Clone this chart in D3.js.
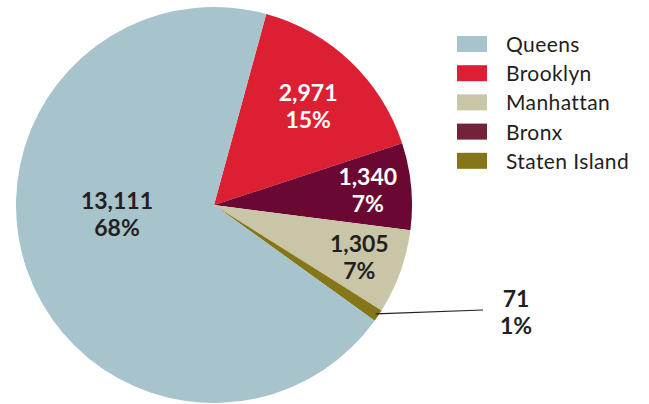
<!DOCTYPE html>
<html>
<head>
<meta charset="utf-8">
<script src="https://cdn.jsdelivr.net/npm/d3@7"></script>
<style>
  body { margin: 0; background: #fff; }
  svg { display: block; }
</style>
</head>
<body>
<svg id="chart" width="649" height="404"></svg>
<script>
// borough data, legend order
var boroughs = ["Queens", "Brooklyn", "Manhattan", "Bronx", "Staten Island"];
var counts = [13111, 2971, 1305, 1340, 71];
var shares = ["68%", "15%", "7%", "7%", "1%"];
var colors = ["#a7c3cb", "#dc1f33", "#c8c6a7", "#6b0832", "#86761a"];
var labelColors = ["#231f20", "#ffffff", "#231f20", "#ffffff", "#231f20"];
var legendColors = ["#a7c3cb", "#dc1f33", "#c8c6a7", "#74213a", "#86761a"];
// order the slices go clockwise, starting just right of 12 o'clock
var sliceOrder = ["Brooklyn", "Bronx", "Manhattan", "Staten Island", "Queens"];

var svg = d3.select("#chart"),
    cx = 214, cy = 205, radius = 198;

var data = sliceOrder.map(function (name) {
    var i = boroughs.indexOf(name);
    return {name: name, value: counts[i], share: shares[i], color: colors[i], text: labelColors[i]};
});

var total = d3.sum(counts);
// tiny slices get drawn at least 1% wide so they stay visible
var minSlice = total * 0.01;

var start = 15.3 * Math.PI / 180;
var pie = d3.pie()
    .sort(null)
    .value(function (d) { return Math.max(d.value, minSlice); })
    .startAngle(start)
    .endAngle(start + 2 * Math.PI);

var arc = d3.arc().innerRadius(0).outerRadius(radius);

var g = svg.append("g")
    .attr("transform", "translate(" + cx + "," + cy + ")");

var arcs = pie(data);

g.selectAll(".slice")
    .data(arcs)
    .enter().append("path")
    .attr("class", "slice")
    .attr("d", arc)
    .style("fill", function (d) { return d.data.color; });

function labelPos(d) {
    if (d.data.name === "Queens") return [-radius * 0.49, radius * 0.05];
    // bigger slices put their label a bit further in
    var k = d.data.value / total > 0.1 ? 0.69 : 0.78;
    var mid = (d.startAngle + d.endAngle) / 2;
    return [Math.sin(mid) * radius * k, -Math.cos(mid) * radius * k];
}

var fmt = d3.format(",");

function addLabel(x, y, d) {
    var t = g.append("text")
        .attr("text-anchor", "middle")
        .style("font-family", "Lato, 'Open Sans', sans-serif")
        .style("font-weight", "bold")
        .style("font-size", "23px")
        .style("fill", d.data.text);
    t.append("tspan").attr("x", x).attr("y", y - 5.5).text(fmt(d.data.value));
    t.append("tspan").attr("x", x).attr("y", y + 21.5).text(d.data.share);
}

arcs.forEach(function (d) {
    if (d.data.name === "Staten Island") {
        var mid = (d.startAngle + d.endAngle) / 2;
        var p0 = [Math.sin(mid) * (radius - 3), -Math.cos(mid) * (radius - 3)];
        var p1 = [483 - cx, 310 - cy];
        g.append("line")
            .attr("x1", p0[0]).attr("y1", p0[1])
            .attr("x2", p1[0]).attr("y2", p1[1])
            .style("stroke", "#231f20")
            .style("stroke-width", 1.2);
        addLabel(p1[0] + 33, p1[1] + 2, d);
    } else {
        var p = labelPos(d);
        addLabel(p[0], p[1], d);
    }
});

// legend
var legend = svg.append("g")
    .attr("transform", "translate(457,36)");

var rows = legend.selectAll(".row")
    .data(boroughs)
    .enter().append("g")
    .attr("class", "row")
    .attr("transform", function (d, i) { return "translate(0," + (i * 29.2) + ")"; });

rows.append("rect")
    .attr("width", 30)
    .attr("height", 16)
    .style("fill", function (d, i) { return legendColors[i]; });

rows.append("text")
    .attr("x", 49)
    .attr("y", 16)
    .style("font-family", "Lato, 'Open Sans', sans-serif")
    .style("font-size", "21px")
    .style("letter-spacing", "0.4px")
    .style("fill", "#231f20")
    .text(function (d) { return d; });
</script>
</body>
</html>
